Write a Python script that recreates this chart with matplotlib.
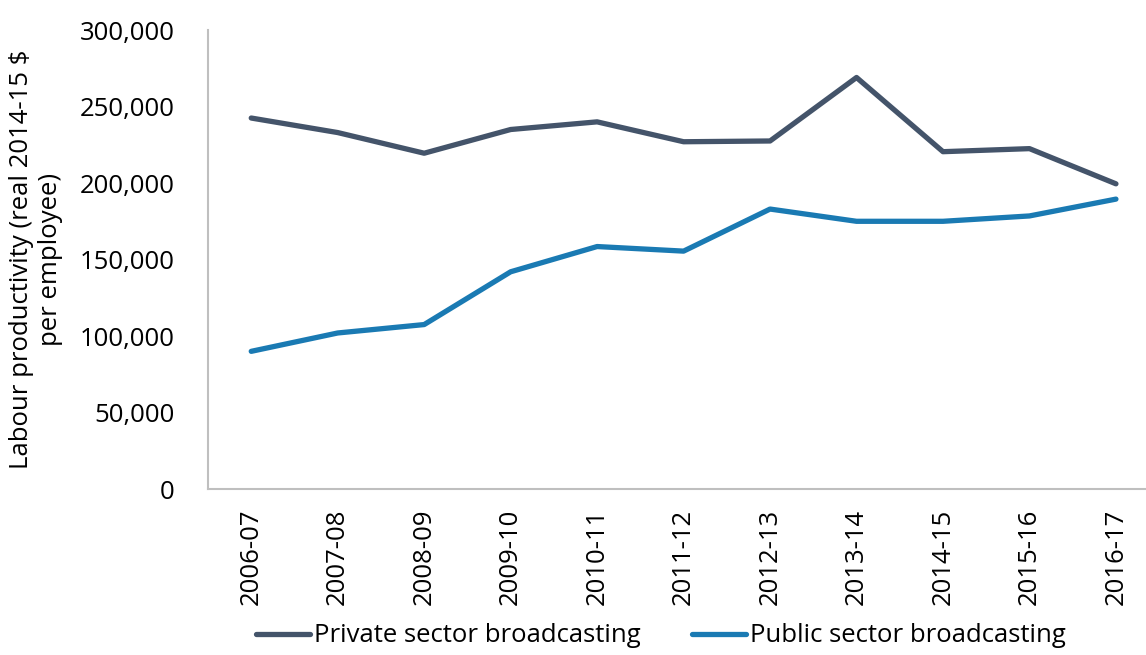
import matplotlib
matplotlib.use("Agg")
import matplotlib.pyplot as plt

plt.rcParams['font.family'] = ['Open Sans', 'DejaVu Sans']

years = ["2006-07", "2007-08", "2008-09", "2009-10", "2010-11", "2011-12",
         "2012-13", "2013-14", "2014-15", "2015-16", "2016-17"]
private = [242500, 233000, 219500, 235000, 240000, 227000,
           227500, 269000, 220500, 222500, 199500]
public = [90000, 102000, 107500, 142000, 158500, 155500,
          183000, 175000, 175000, 178500, 189500]

fig = plt.figure(figsize=(11.46, 6.55), dpi=100)
ax = fig.add_axes([0.1815, 0.2534, 0.830, 0.7007])

x = range(len(years))
ax.plot(x, private, color="#44546A", lw=3.8, label="Private sector broadcasting", solid_capstyle="round")
ax.plot(x, public, color="#1A7AB3", lw=3.8, label="Public sector broadcasting", solid_capstyle="round")

ax.set_xlim(-0.5, len(years) - 0.5)
ax.set_ylim(0, 300000)
ax.set_yticks(range(0, 300001, 50000))
ax.set_yticklabels(["{:,}".format(v) for v in range(0, 300001, 50000)], fontsize=18.5)
ax.set_xticks(list(x))
ax.set_xticklabels(years, rotation=90, fontsize=18.5)
ax.tick_params(length=0)
ax.tick_params(axis="y", pad=24)
ax.tick_params(axis="x", pad=14)

for s in ["top", "right"]:
    ax.spines[s].set_visible(False)
for s in ["left", "bottom"]:
    ax.spines[s].set_color("#BFBFBF")
    ax.spines[s].set_linewidth(1.5)

ax.set_ylabel("Labour productivity (real 2014-15 \\$\nper employee)", fontsize=18.5, labelpad=12)

fig.legend(loc="center", bbox_to_anchor=(0.577, 1 - 636 / 655), ncol=2, frameon=False,
           fontsize=18.5, handlelength=2.1, handletextpad=0.15, columnspacing=2.0,
           borderpad=0, borderaxespad=0)

fig.savefig("out.png", dpi=100)
